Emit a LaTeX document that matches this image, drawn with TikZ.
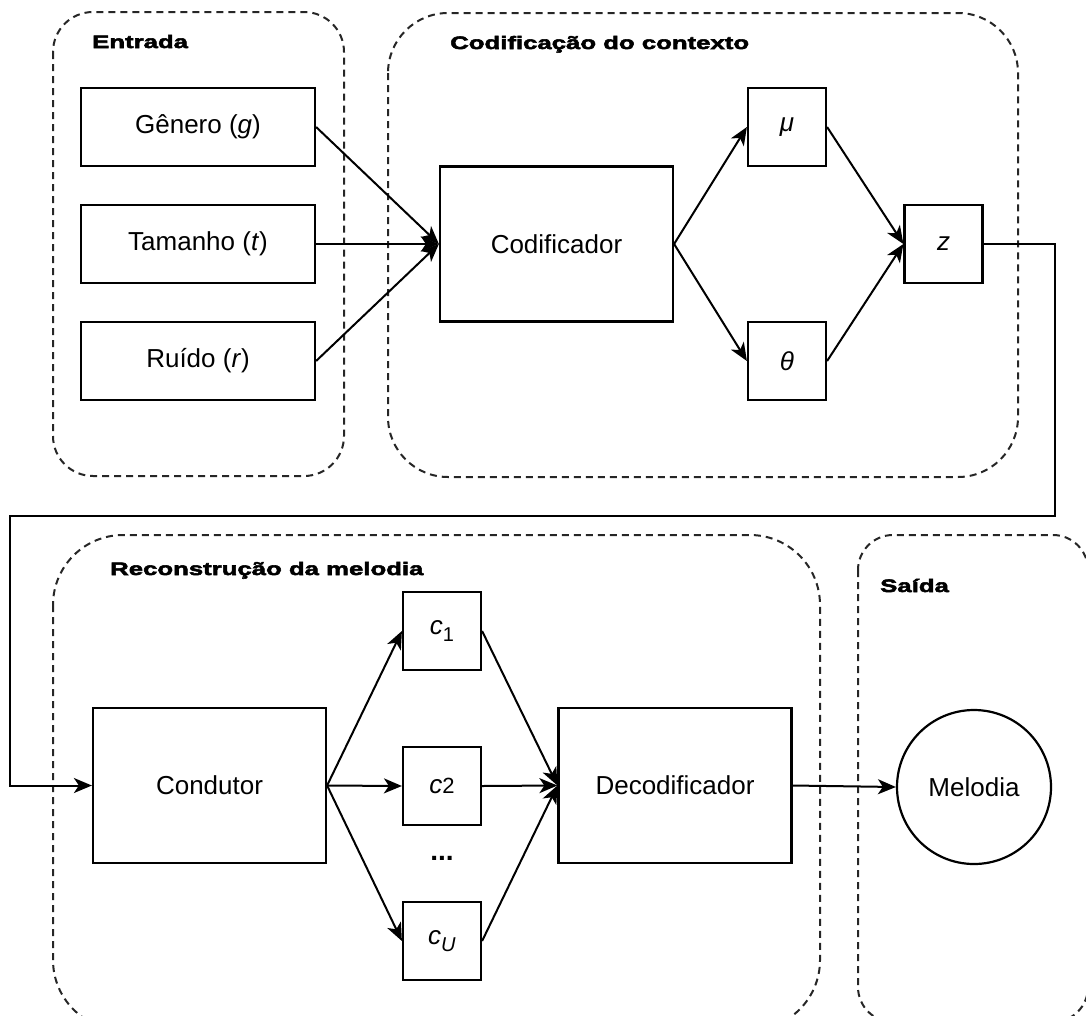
\documentclass[tikz,border=0pt]{standalone}
\usepackage{fontspec}
\setmainfont{Liberation Sans}
\newfontfamily\titlefont[FakeStretch=1.43,FakeBold=3]{Liberation Sans Bold}
\usetikzlibrary{arrows.meta}

\begin{document}
\begin{tikzpicture}[x=1pt,y=-1pt,
  every node/.style={font=\fontsize{26}{30}\selectfont, text=black},
  grp/.style={draw=black!85, line width=2pt, dash pattern=on 7pt off 5pt},
  grptitle/.style={anchor=base west, inner sep=0pt, font=\titlefont\fontsize{18}{20}\selectfont},
  wide/.style={draw, line width=2.2pt, inner sep=0pt, minimum width=234pt, minimum height=78pt},
  square/.style={draw, line width=2.2pt, inner sep=0pt, minimum width=78pt, minimum height=78pt},
  block/.style={draw, line width=2.2pt, inner sep=0pt, minimum width=233pt, minimum height=155pt},
  round/.style={draw, circle, line width=2.2pt, inner sep=0pt, minimum size=154pt},
  arr/.style={line width=2pt, -{Stealth[length=18pt,width=15pt,inset=5pt]}}]
\useasboundingbox (0,0) rectangle (1086,1015);

% group frames
\begin{scope}
  \clip (0,0) rectangle (1086,1015);
  \draw[grp, rounded corners=40pt] (53,12) rectangle (344,476);
  \draw[grp, rounded corners=60pt] (388,13) rectangle (1018,477);
  \draw[grp, rounded corners=70pt] (53,535) rectangle (820,1030);
  \draw[grp, rounded corners=35pt] (858,535) rectangle (1088,1022);
\end{scope}

% group titles
\node[grptitle] (tEntrada) at (92,48) {Entrada};
\node[grptitle] (tCod) at (450,49) {Codificação do contexto};
\node[grptitle] (tRec) at (110,575) {Reconstrução da melodia};
\node[grptitle] (tSaida) at (880,592) {Saída};

% inputs
\node[wide] (gen) at (198,127) {Gênero (\textit{g})};
\node[wide] (tam) at (198,244) {Tamanho (\textit{t})};
\node[wide] (rui) at (198,361) {Ruído (\textit{r})};

% context encoding
\node[block] (cod) at (556.5,244) {Codificador};
\node[square] (mu) at (787,127) {\textit{μ}};
\node[square] (theta) at (787,361) {\textit{θ}};
\node[square] (z) at (943.5,244) {\textit{z}};

% melody reconstruction
\node[block] (cond) at (209.5,785.5) {Condutor};
\node[square] (c1) at (442,631) {\textit{c}\raisebox{-0.25em}{\fontsize{20}{20}\selectfont 1}};
\node[square] (c2) at (442,786) {\textit{c}{\fontsize{22}{22}\selectfont 2}};
\node[square] (cU) at (442,941) {\textit{c}\raisebox{-0.25em}{\fontsize{20}{20}\selectfont\textit{U}}};
\node[font=\bfseries\fontsize{28}{28}\selectfont, inner sep=0pt] (dots) at (442,858) {...};
\node[block] (dec) at (675,785.5) {Decodificador};

% output
\node[round] (mel) at (974,787) {Melodia};

% connectors
\draw[arr] (gen.east) -- (cod.west);
\draw[arr] (tam.east) -- (cod.west);
\draw[arr] (rui.east) -- (cod.west);
\draw[arr] (cod.east) -- (mu.west);
\draw[arr] (cod.east) -- (theta.west);
\draw[arr] (mu.east) -- (z.west);
\draw[arr] (theta.east) -- (z.west);

\coordinate (turnR) at (1055,516);
\coordinate (turnL) at (10,516);
\draw[arr] (z.east) -| (turnR) -- (turnL) |- (cond.west);

\draw[arr] (cond.east) -- (c1.west);
\draw[arr] (cond.east) -- (c2.west);
\draw[arr] (cond.east) -- (cU.west);
\draw[arr] (c1.east) -- (dec.west);
\draw[arr] (c2.east) -- (dec.west);
\draw[arr] (cU.east) -- (dec.west);
\draw[arr] (dec.east) -- (mel.west);
\end{tikzpicture}
\end{document}
